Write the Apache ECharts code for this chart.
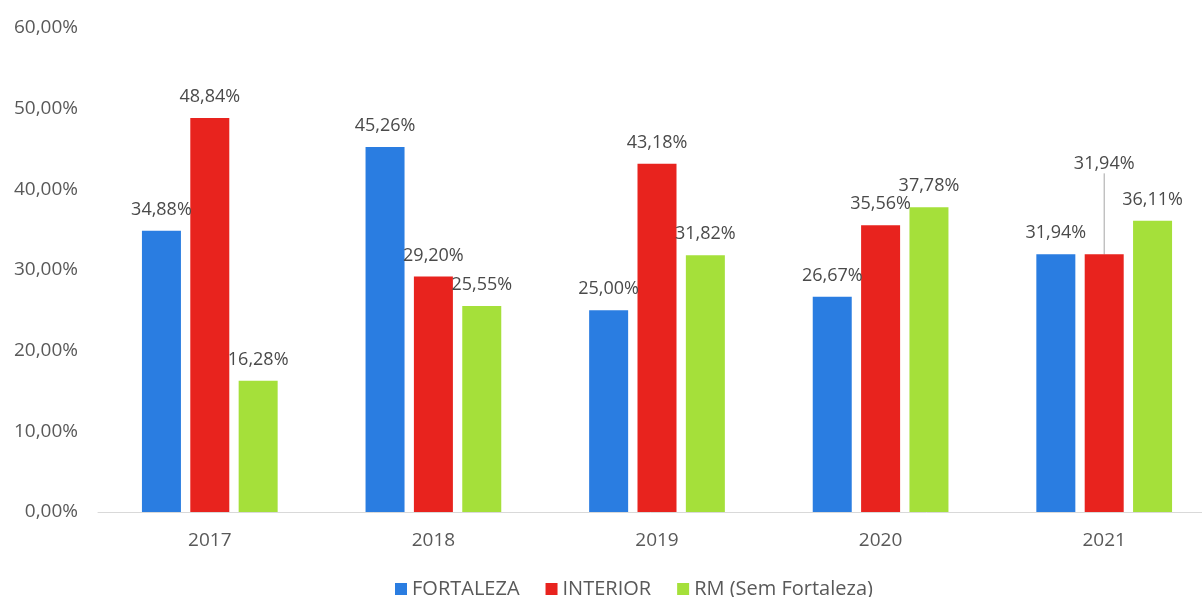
<!DOCTYPE html>
<html>
<head>
<meta charset="utf-8">
<script src="https://cdn.jsdelivr.net/npm/echarts@6/dist/echarts.min.js"></script>
<style>
  html, body { margin: 0; padding: 0; background: #fff; }
  #chart { width: 1202px; height: 597px; }
</style>
</head>
<body>
<div id="chart"></div>
<script>
var years = ['2017', '2018', '2019', '2020', '2021'];
var fortaleza = [34.88, 45.26, 25.00, 26.67, 31.94];
var interior = [48.84, 29.20, 43.18, 35.56, 31.94];
var rm = [16.28, 25.55, 31.82, 37.78, 36.11];
var seriesNames = ['FORTALEZA', 'INTERIOR', 'RM (Sem Fortaleza)'];

var font = '"Open Sans", sans-serif';
var textColor = '#595959';
function pct(v) { return v.toFixed(2).replace('.', ',') + '%'; }

var barLabel = {
  show: true,
  position: 'top',
  distance: 12,
  color: '#4a4a4a',
  fontFamily: font,
  fontSize: 18,
  formatter: function(p) { return pct(p.value); }
};

// the 2021 INTERIOR label sits higher, with a leader line down to its bar
var interiorData = interior.map(function(v, i) {
  if (i !== 4) return v;
  return { value: v, labelLine: { show: true, lineStyle: { color: '#a6a6a6', width: 1 } } };
});

var chart = echarts.init(document.getElementById('chart'), null, { renderer: 'canvas' });
chart.setOption({
  animation: false,
  textStyle: { fontFamily: font },
  grid: { left: 98, top: 28, right: -14, bottom: 85, outerBoundsMode: 'none' },
  legend: {
    top: 574,
    left: 390,
    itemWidth: 12,
    itemHeight: 12,
    itemGap: 26,
    icon: 'rect',
    textStyle: { color: textColor, fontSize: 20, fontFamily: font },
    data: seriesNames
  },
  xAxis: {
    type: 'category',
    data: years,
    axisLine: { lineStyle: { color: '#d9d9d9' } },
    axisTick: { show: false },
    axisLabel: { color: textColor, fontSize: 19, margin: 19, fontFamily: font }
  },
  yAxis: {
    type: 'value',
    min: 0,
    max: 60,
    interval: 10,
    axisLine: { show: false },
    axisTick: { show: false },
    splitLine: { show: false },
    axisLabel: {
      color: textColor, fontSize: 19, margin: 20, fontFamily: font,
      formatter: function(v) { return pct(v); }
    }
  },
  series: [
    {
      name: seriesNames[0], type: 'bar', data: fortaleza,
      barWidth: 39, barGap: '24%',
      itemStyle: { color: '#2a7de1' },
      label: barLabel
    },
    {
      name: seriesNames[1], type: 'bar', data: interiorData,
      barWidth: 39, barGap: '24%',
      itemStyle: { color: '#e8231e' },
      label: barLabel,
      labelLine: { show: false },
      labelLayout: function(p) {
        if (p.dataIndex === 4) return { dy: -69 };
        return {};
      }
    },
    {
      name: seriesNames[2], type: 'bar', data: rm,
      barWidth: 39, barGap: '24%',
      itemStyle: { color: '#a5e03a' },
      label: barLabel
    }
  ]
});
</script>
</body>
</html>
